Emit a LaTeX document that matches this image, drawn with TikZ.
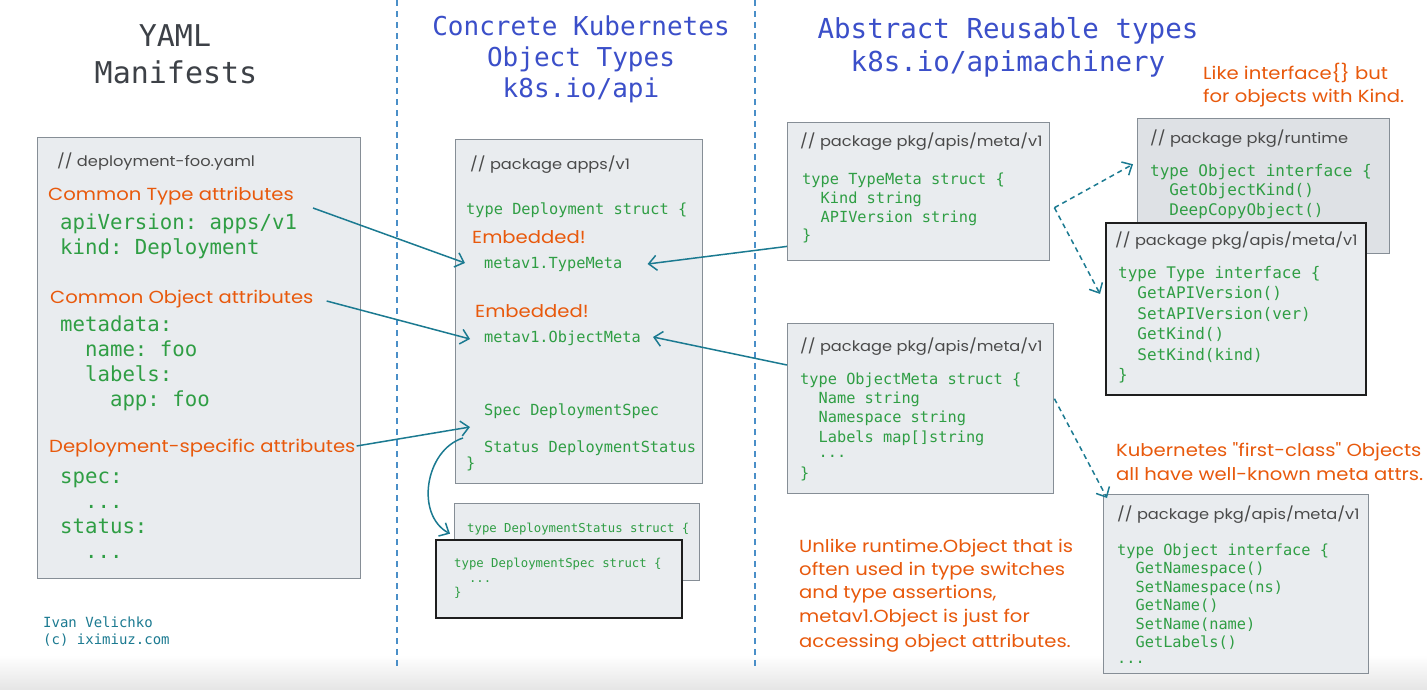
\documentclass[tikz,border=0pt]{standalone}
\usepackage{fontspec}
\setmonofont{DejaVu Sans Mono}
\newfontfamily\handfont[FakeStretch=1.12]{Poppins}
\usetikzlibrary{arrows.meta}

\definecolor{codegreen}{HTML}{2F9E44}
\definecolor{handorange}{HTML}{E8590C}
\definecolor{titleblue}{HTML}{3B4FC9}
\definecolor{titlegray}{HTML}{3D4147}
\definecolor{boxfill}{HTML}{E9ECEF}
\definecolor{boxfilldark}{HTML}{DEE1E5}
\definecolor{boxline}{HTML}{868E96}
\definecolor{boxblack}{HTML}{1E1E1E}
\definecolor{linkteal}{HTML}{1B7A91}
\definecolor{sepblue}{HTML}{4A8FC8}
\definecolor{notegray}{HTML}{4A4A4A}

\newcommand{\fsz}[1]{\fontsize{#1}{#1}\selectfont}

\begin{document}
\begin{tikzpicture}[x=10pt,y=10pt]
        \tikzstyle{every node}+=[inner sep=0pt]
        \tikzstyle{box}=[draw=boxline, line width=1.4pt, fill=boxfill, anchor=north west]
        \tikzstyle{frontbox}=[box, draw=boxblack, line width=1.8pt]
        \tikzstyle{bigtitle}=[text=titlegray, font=\ttfamily\fsz{30}, text height=21pt, text depth=0pt]
        \tikzstyle{bluetitle}=[text=titleblue, font=\ttfamily\fsz{26}, text height=19pt, text depth=0pt]
        \tikzstyle{bluetitlewide}=[text=titleblue, font=\ttfamily\fsz{27.5}, text height=20pt, text depth=0pt]
        \tikzstyle{yaml}=[anchor=west, text=codegreen, font=\ttfamily\fsz{20.7}, text height=15pt, text depth=1.4pt]
        \tikzstyle{code}=[anchor=west, text=codegreen, font=\ttfamily\fsz{15.3}, text height=11.2pt, text depth=1.1pt]
        \tikzstyle{codebig}=[anchor=west, text=codegreen, font=\ttfamily\fsz{16}, text height=11.7pt, text depth=1.1pt]
        \tikzstyle{codesmall}=[anchor=west, text=codegreen, font=\ttfamily\fsz{12.3}, text height=9pt, text depth=0.9pt]
        \tikzstyle{signature}=[anchor=west, text=linkteal, font=\ttfamily\fsz{14}, text height=10.2pt, text depth=1pt]
        \tikzstyle{handgray}=[anchor=west, text=notegray, font=\handfont\fsz{14.5}, text height=10.6pt, text depth=1pt]
        \tikzstyle{handlabel}=[anchor=west, text=handorange, font=\handfont\fsz{17.5}, text height=12.8pt, text depth=1.2pt]
        \tikzstyle{handnote}=[anchor=west, text=handorange, font=\handfont\fsz{17.5}, text height=12.8pt, text depth=1.2pt]
        \tikzstyle{link}=[draw=linkteal, line width=1.5pt, -{Straight Barb[length=8pt,width=15pt]}]
        \tikzstyle{dashlink}=[link, dash pattern=on 5pt off 4pt]
        \tikzstyle{sep}=[draw=sepblue, line width=2.4pt, dash pattern=on 6pt off 5pt]
        \useasboundingbox (0,0) rectangle (142.7,-68.9);
        \fill [white] (0,0) rectangle (142.7,-68.9);
        \shade [top color=white, bottom color=black!10] (0,-65.5) rectangle (142.7,-68.9);
        % column separators
        \draw [sep] (39.7,0) -- (39.7,-67.0);
        \draw [sep] (75.5,0) -- (75.5,-67.0);
        % titles
        \node [bigtitle] (yamltitle) at (17.5,-3.6) {YAML};
        \node [bigtitle] (yamltitleb) at (17.6,-7.3) {Manifests};
        \node [bluetitle] (apititle) at (58.1,-2.6) {Concrete Kubernetes};
        \node [bluetitle] (apititleb) at (58.1,-5.7) {Object Types};
        \node [bluetitle] (apititlec) at (58.1,-8.8) {k8s.io/api};
        \node [bluetitlewide] (machtitle) at (100.8,-2.8) {Abstract Reusable types};
        \node [bluetitlewide] (machtitleb) at (100.8,-6.1) {k8s.io/apimachinery};
        % yaml manifest
        \node [box, minimum width=323pt, minimum height=441pt] (yamlbox) at (3.7,-13.7) {};
        \node [handgray] (yamlfile) at (5.7,-16.2) {// deployment-foo.yaml};
        \node [handlabel] (typeattr) at (4.8,-19.5) {Common Type attributes};
        \node [yaml] (apiver) at (6.0,-22.3) {apiVersion: apps/v1};
        \node [yaml] (kind) at (6.0,-24.8) {kind: Deployment};
        \node [handlabel] (objattr) at (5.0,-29.8) {Common Object attributes};
        \node [yaml] (metadata) at (6.0,-32.5) {metadata:};
        \node [yaml] (mname) at (6.0,-35.0) {\phantom{xx}name: foo};
        \node [yaml] (mlabels) at (6.0,-37.5) {\phantom{xx}labels:};
        \node [yaml] (mapp) at (6.0,-40.0) {\phantom{xxxx}app: foo};
        \node [handlabel] (specattr) at (4.9,-44.7) {Deployment-specific attributes};
        \node [yaml] (spec) at (6.0,-47.7) {spec:};
        \node [yaml] (specdots) at (6.0,-50.2) {\phantom{xx}...};
        \node [yaml] (status) at (6.0,-52.7) {status:};
        \node [yaml] (statusdots) at (6.0,-55.2) {\phantom{xx}...};
        \node [signature] (author) at (4.3,-62.3) {Ivan Velichko};
        \node [signature] (site) at (4.3,-64.0) {(c) iximiuz.com};
        % apps/v1 Deployment
        \node [box, minimum width=247pt, minimum height=344pt] (depbox) at (45.5,-13.9) {};
        \node [handgray] (depkg) at (47.0,-16.5) {// package apps/v1};
        \node [code] (deptype) at (46.6,-20.9) {type Deployment struct \{};
        \node [handlabel] (embtype) at (47.2,-23.8) {Embedded!};
        \node [code] (tmfield) at (48.4,-26.3) {metav1.TypeMeta};
        \node [handlabel] (embobj) at (47.5,-31.2) {Embedded!};
        \node [code] (omfield) at (48.4,-33.7) {metav1.ObjectMeta};
        \node [code] (specfield) at (48.4,-41.0) {Spec DeploymentSpec};
        \node [code] (statfield) at (48.4,-44.7) {Status DeploymentStatus};
        \node [code] (depclose) at (46.6,-46.3) {\}};
        \node [box, minimum width=245pt, minimum height=77pt] (statbox) at (45.4,-50.3) {};
        \node [codesmall] (stattype) at (46.7,-52.8) {type DeploymentStatus struct \{};
        \node [frontbox, minimum width=246pt, minimum height=78pt] (specbox) at (43.5,-53.9) {};
        \node [codesmall] (spectype) at (45.4,-56.3) {type DeploymentSpec struct \{};
        \node [codesmall] (specbody) at (45.4,-57.8) {\phantom{xx}...};
        \node [codesmall] (specclose) at (45.4,-59.2) {\}};
        % meta/v1 TypeMeta
        \node [box, minimum width=262pt, minimum height=138pt] (tmbox) at (78.7,-12.2) {};
        \node [handgray] (tmpkg) at (80.0,-14.2) {// package pkg/apis/meta/v1};
        \node [code] (tmtype) at (80.2,-17.9) {type TypeMeta struct \{};
        \node [code] (tmkind) at (80.2,-19.8) {\phantom{xx}Kind string};
        \node [code] (tmver) at (80.2,-21.7) {\phantom{xx}APIVersion string};
        \node [code] (tmclose) at (80.2,-23.5) {\}};
        % meta/v1 ObjectMeta
        \node [box, minimum width=266pt, minimum height=170pt] (ombox) at (78.7,-32.3) {};
        \node [handgray] (ompkg) at (80.0,-34.7) {// package pkg/apis/meta/v1};
        \node [code] (omtype) at (80.0,-37.9) {type ObjectMeta struct \{};
        \node [code] (omname) at (80.0,-39.8) {\phantom{xx}Name string};
        \node [code] (omns) at (80.0,-41.7) {\phantom{xx}Namespace string};
        \node [code] (omlabels) at (80.0,-43.7) {\phantom{xx}Labels map[]string};
        \node [code] (omdots) at (80.0,-45.2) {\phantom{xx}...};
        \node [code] (omclose) at (80.0,-47.3) {\}};
        % runtime.Object
        \node [box, fill=boxfilldark, minimum width=252pt, minimum height=135pt] (rtbox) at (113.7,-11.8) {};
        \node [handgray] (rtpkg) at (115.0,-13.9) {// package pkg/runtime};
        \node [codebig] (rttype) at (115.0,-17.1) {type Object interface \{};
        \node [codebig] (rtkind) at (115.0,-19.0) {\phantom{xx}GetObjectKind()};
        \node [codebig] (rtcopy) at (115.0,-21.0) {\phantom{xx}DeepCopyObject()};
        % meta/v1 Type
        \node [frontbox, minimum width=260pt, minimum height=172pt] (tybox) at (110.5,-22.2) {};
        \node [handgray] (typkg) at (111.5,-24.1) {// package pkg/apis/meta/v1};
        \node [codebig] (tytype) at (111.8,-27.3) {type Type interface \{};
        \node [codebig] (tygetver) at (111.8,-29.35) {\phantom{xx}GetAPIVersion()};
        \node [codebig] (tysetver) at (111.8,-31.4) {\phantom{xx}SetAPIVersion(ver)};
        \node [codebig] (tygetkind) at (111.8,-33.45) {\phantom{xx}GetKind()};
        \node [codebig] (tysetkind) at (111.8,-35.5) {\phantom{xx}SetKind(kind)};
        \node [codebig] (tyclose) at (111.8,-37.55) {\}};
        % meta/v1 Object
        \node [box, minimum width=265pt, minimum height=179pt] (obbox) at (110.3,-49.4) {};
        \node [handgray] (obpkg) at (111.7,-51.5) {// package pkg/apis/meta/v1};
        \node [code] (obtype) at (111.7,-55.0) {type Object interface \{};
        \node [code] (obgetns) at (111.7,-56.85) {\phantom{xx}GetNamespace()};
        \node [code] (obsetns) at (111.7,-58.7) {\phantom{xx}SetNamespace(ns)};
        \node [code] (obgetname) at (111.7,-60.55) {\phantom{xx}GetName()};
        \node [code] (obsetname) at (111.7,-62.4) {\phantom{xx}SetName(name)};
        \node [code] (obgetlabels) at (111.7,-64.25) {\phantom{xx}GetLabels()};
        \node [code] (obdots) at (111.7,-65.8) {...};
        % notes
        \node [handnote] (likenote) at (120.3,-7.4) {Like interface\{\} but};
        \node [handnote] (likenoteb) at (120.3,-9.7) {for objects with Kind.};
        \node [handnote] (k8snote) at (111.6,-45.1) {Kubernetes "first-class" Objects};
        \node [handnote] (k8snoteb) at (111.6,-47.5) {all have well-known meta attrs.};
        \node [handnote] (unlike) at (79.9,-54.7) {Unlike runtime.Object that is};
        \node [handnote] (unlikeb) at (79.9,-57.0) {often used in type switches};
        \node [handnote] (unlikec) at (79.9,-59.3) {and type assertions,};
        \node [handnote] (unliked) at (79.9,-61.7) {metav1.Object is just for};
        \node [handnote] (unlikee) at (79.9,-64.2) {accessing object attributes.};
        % connectors
        \draw [link] ([xshift=19pt,yshift=-13pt]typeattr.east) -- ([xshift=-19pt]tmfield.west);
        \draw [link] ([xshift=13pt,yshift=-3pt]objattr.east) -- ([xshift=-14pt,yshift=-2pt]omfield.west);
        \draw [link] ([xshift=1pt,yshift=1pt]specattr.east) -- ([xshift=-14pt,yshift=-17pt]specfield.west);
        \draw [link] ([yshift=15pt]tmbox.south west) -- ([xshift=25pt,yshift=-1pt]tmfield.east);
        \draw [link] ([yshift=-42pt]ombox.north west) -- ([xshift=12pt]omfield.east);
        \draw [link] ([xshift=-21pt,yshift=9pt]statfield.west) .. controls (42.5,-45.0) and (41.5,-51.5) .. ([xshift=-4pt,yshift=8.5pt]statbox.west);
        \coordinate (split) at ([xshift=4pt,yshift=-16pt]tmbox.east);
        \draw [dashlink] (split) -- ([xshift=-4pt,yshift=22pt]rtbox.west);
        \draw [dashlink] (split) -- ([xshift=-5pt,yshift=15pt]tybox.west);
        \draw [dashlink] ([yshift=10pt]ombox.east) -- ([xshift=4pt,yshift=-4pt]obbox.north west);
\end{tikzpicture}
\end{document}
